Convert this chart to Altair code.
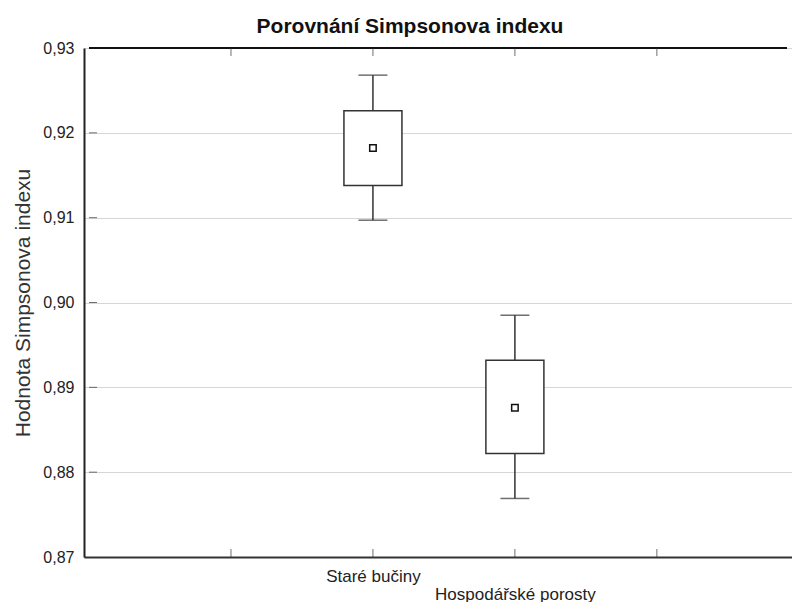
import altair as alt
import pandas as pd

# ---- data ----
groups = ["Staré bučiny", "Hospodářské porosty"]
slot = [2, 3]                      # category slot index on the x axis (1..4 shown)
mean = [0.9182, 0.8876]
box_low = [0.9138, 0.8822]
box_high = [0.9226, 0.8932]
wh_low = [0.9097, 0.8769]
wh_high = [0.9268, 0.8985]

x_ticks = [1, 2, 3, 4]
y_ticks = [0.87, 0.88, 0.89, 0.90, 0.91, 0.92, 0.93]
y_inner = [0.88, 0.89, 0.90, 0.91, 0.92]

df = pd.DataFrame({
    "group": groups, "slot": slot, "mean": mean,
    "lo": box_low, "hi": box_high, "wlo": wh_low, "whi": wh_high,
})
xt = pd.DataFrame({"x": x_ticks})
yt = pd.DataFrame({"y": y_inner})

FONT = "Arial, Liberation Sans, sans-serif"
W, H = 708, 509
XMAX = 708 / 144
xscale = alt.Scale(domain=[0, XMAX], nice=False, zero=False)
yscale = alt.Scale(domain=[0.87, 0.93], nice=False, zero=False)

label_expr = ("datum.value == 2 ? 'Staré bučiny' : "
              "(datum.value == 3 ? ['', 'Hospodářské porosty'] : '')")

x_axis = alt.Axis(values=x_ticks, labelExpr=label_expr, grid=False, tickSize=0,
                  domainColor="#333", domainWidth=2, labelFontSize=17, labelColor="#222",
                  labelFont=FONT, labelPadding=11, labelLineHeight=18,
                  labelBaseline="top", title=None)
y_axis = alt.Axis(values=y_ticks,
                  labelExpr="replace(format(datum.value, '.2f'), '.', ',')",
                  grid=True, gridColor="#d6d6d6", gridWidth=1, tickSize=0,
                  domainColor="#222", domainWidth=2, labelFontSize=16,
                  labelColor="#222", labelFont=FONT, labelPadding=10,
                  title="Hodnota Simpsonova indexu", titleFontSize=21,
                  titleFontWeight="normal", titleColor="#333", titleFont=FONT,
                  titlePadding=9)

base = alt.Chart(df)

# invisible layer carrying the axes and gridlines
axes = alt.Chart(yt).mark_rule(opacity=0).encode(
    x=alt.datum(0, type="quantitative", scale=xscale, axis=x_axis),
    y=alt.Y("y:Q", scale=yscale, axis=y_axis),
)

top_border = alt.Chart(yt).mark_rule(color="#111", strokeWidth=2).encode(
    x=alt.datum(0, type="quantitative"),
    x2=alt.datum(XMAX),
    y=alt.datum(0.93, type="quantitative"),
)

tick_bottom = alt.Chart(xt).mark_tick(orient="vertical", size=8, yOffset=-4,
                                      color="#333", thickness=1).encode(
    x="x:Q", y=alt.datum(0.87, type="quantitative"))
tick_top = alt.Chart(xt).mark_tick(orient="vertical", size=8, yOffset=4,
                                   color="#333", thickness=1).encode(
    x="x:Q", y=alt.datum(0.93, type="quantitative"))
tick_left = alt.Chart(yt).mark_tick(orient="horizontal", size=8, xOffset=4,
                                    color="#333", thickness=1).encode(
    x=alt.datum(0, type="quantitative"), y="y:Q")

whisker = base.mark_rule(color="#333", strokeWidth=1.5).encode(
    x="slot:Q", y="wlo:Q", y2="whi:Q")
caps_lo = base.mark_tick(orient="horizontal", size=29, color="#333", thickness=1.5).encode(
    x="slot:Q", y="wlo:Q")
caps_hi = base.mark_tick(orient="horizontal", size=29, color="#333", thickness=1.5).encode(
    x="slot:Q", y="whi:Q")
box = base.mark_bar(size=58, fill="white", stroke="#333", strokeWidth=1.5).encode(
    x="slot:Q", y="lo:Q", y2="hi:Q")
mean_pt = base.mark_point(shape="square", size=42, filled=True, fill="white",
                          stroke="#111", strokeWidth=1.5, opacity=1).encode(
    x="slot:Q", y="mean:Q")

chart = alt.layer(
    axes, top_border, tick_bottom, tick_top, tick_left,
    whisker, box, caps_lo, caps_hi, mean_pt,
).properties(
    width=W, height=H,
    title=alt.TitleParams("Porovnání Simpsonova indexu", fontSize=21,
                          fontWeight="bold", font=FONT, color="#111",
                          anchor="middle", dx=-28, offset=14, dy=28,
                          baseline="alphabetic"),
    autosize=alt.AutoSizeParams(type="none"),
    padding={"left": 84, "top": 48, "right": 0, "bottom": 45},
).configure_view(stroke=None).configure(background="white")

chart.save("out.html", embed_options={"renderer": "svg", "actions": False})
